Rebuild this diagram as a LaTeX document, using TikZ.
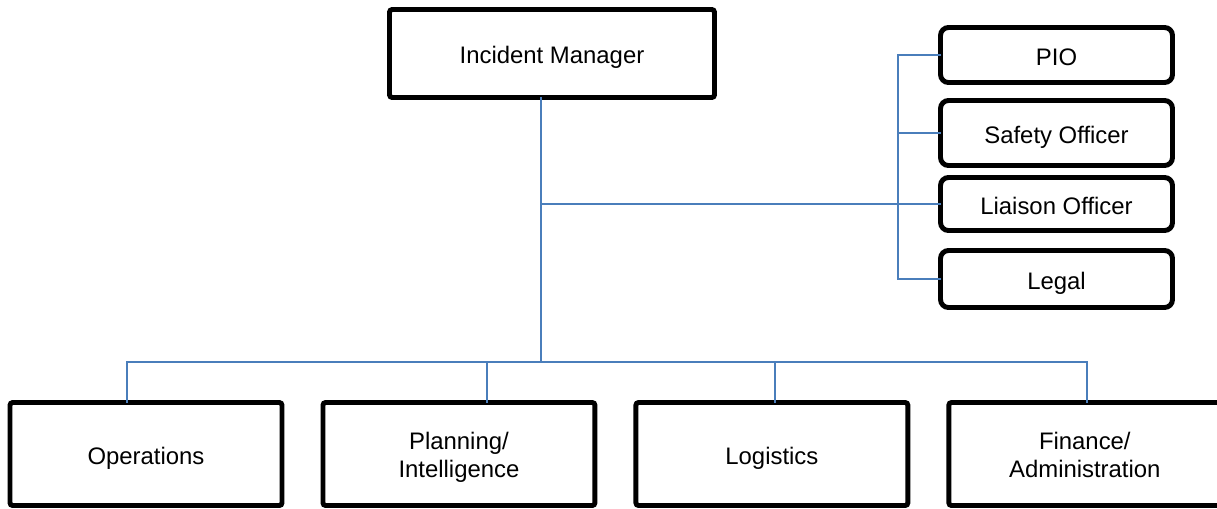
\documentclass[tikz,border=0pt]{standalone}
\usepackage{fontspec}
\setmainfont{Liberation Sans}
\usetikzlibrary{positioning}

\definecolor{linkblue}{HTML}{4A7EBB}
\tikzset{
  unit/.style={draw, line width=2.8pt, outer sep=0pt, rounded corners=1.5pt,
    minimum width=5.44cm, minimum height=2.06cm, align=center,
    text height=11.6pt, text depth=0pt},
  twoline/.style={text height=26.4pt, text depth=0pt},
  staff/.style={draw, line width=2.8pt, outer sep=0pt, rounded corners=4.5pt,
    minimum width=4.64cm, align=center, text height=11.6pt, text depth=0pt},
  link/.style={draw=linkblue, line width=0.9pt},
}

\begin{document}
\begin{tikzpicture}[x=0.02cm,y=-0.02cm,node distance=0.82cm,
    font=\fontsize{13.6}{16}\selectfont]
  \useasboundingbox (0,0) rectangle (1217,508);
  \node[unit, minimum width=6.5cm, minimum height=1.76cm] (im) at (552,53.5) {Incident Manager};
  % sections
  \node[unit] (ops) at (146,454) {Operations};
  \node[unit, twoline, right=of ops] (plan) {Planning/\\Intelligence};
  \node[unit, right=of plan] (log) {Logistics};
  \node[unit, twoline, right=of log] (fin) {Finance/\\Administration};
  % command staff
  \node[staff, minimum height=1.1cm] (pio) at (1056.5,55) {PIO};
  \node[staff, minimum height=1.3cm] (safety) at (1056.5,133) {Safety Officer};
  \node[staff, minimum height=1.06cm] (liaison) at (1056.5,204) {Liaison Officer};
  \node[staff, minimum height=1.14cm] (legal) at (1056.5,279) {Legal};
  %
  \coordinate (hub) at (541,362);
  \coordinate (spine) at (898,55);
  \coordinate (opsTap) at (127,362);
  \coordinate (planTap) at (487,362);
  \coordinate (logTap) at (775,362);
  \coordinate (finTap) at (1087,362);
  \draw[link] (im.south -| hub) -- (hub);
  \draw[link] (opsTap |- ops.north) -- (opsTap) -- (finTap) -- (finTap |- fin.north);
  \draw[link] (planTap) -- (planTap |- plan.north);
  \draw[link] (logTap) -- (logTap |- log.north);
  \draw[link] (hub |- liaison.west) -- (liaison.west);
  \draw[link] (pio.west) -- (spine) -- (spine |- legal.west) -- (legal.west);
  \draw[link] (spine |- safety.west) -- (safety.west);
\end{tikzpicture}
\end{document}
